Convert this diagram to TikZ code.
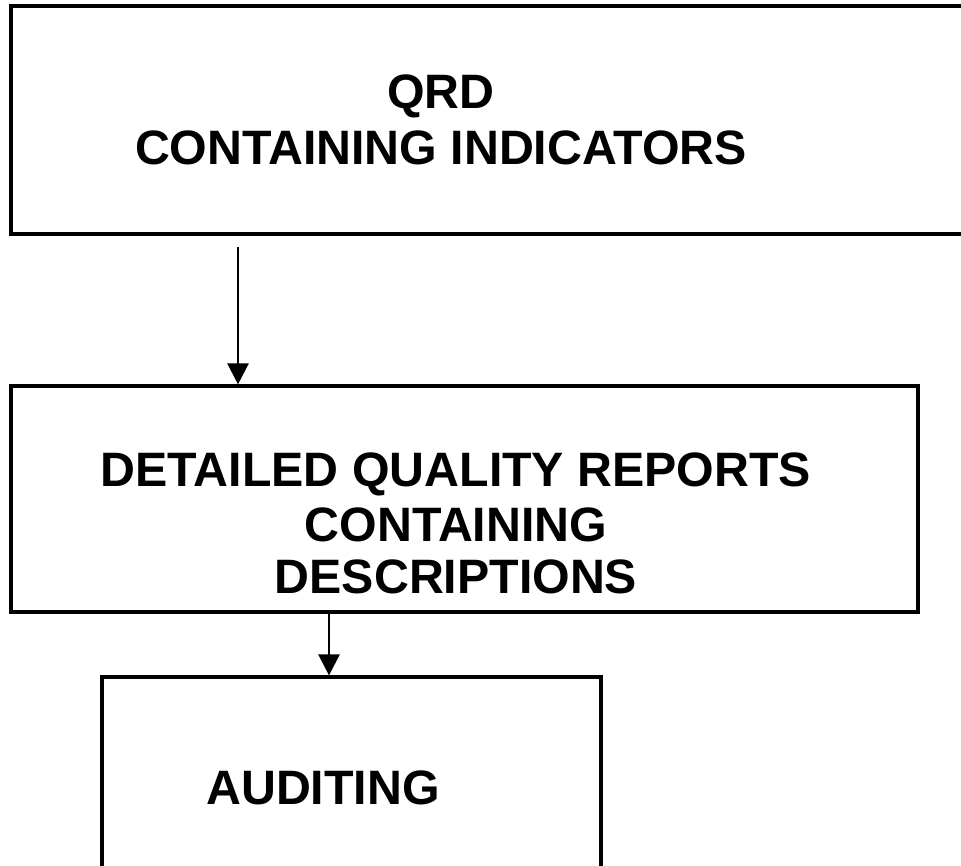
\documentclass[tikz,border=0pt]{standalone}
\usepackage{fontspec}
\setmainfont{Liberation Sans}
\usetikzlibrary{arrows.meta}
\begin{document}
\begin{tikzpicture}[x=1pt,y=-1pt,
  boxstyle/.style={draw=black,line width=3.2pt,rectangle,inner sep=0pt,fill=white},
  labelstyle/.style={font=\fontsize{48.3}{54}\selectfont\bfseries,inner sep=0pt,anchor=base},
  arrowstyle/.style={line width=2.5pt,-{Triangle[length=21pt,width=21pt]}}]
\useasboundingbox (0,0) rectangle (961,865);
\clip (0,0) rectangle (961,865);
\fill[white] (0,0) rectangle (961,865);
% boxes
\node[boxstyle,minimum width=956pt,minimum height=228pt] (b1) at (489,120) {};
\node[boxstyle,minimum width=907pt,minimum height=226pt] (b2) at (464.5,499) {};
\node[boxstyle,minimum width=499pt,minimum height=200pt] (b3) at (351.5,777) {};
% texts
\node[labelstyle] (t1a) at (441,108) {QRD};
\node[labelstyle] (t1b) at (441,164) {CONTAINING INDICATORS};
\node[labelstyle] (t2a) at (456,486) {DETAILED QUALITY REPORTS};
\node[labelstyle] (t2b) at (456,541) {CONTAINING};
\node[labelstyle] (t2c) at (456,593) {DESCRIPTIONS};
\node[labelstyle] (t3) at (323,804) {AUDITING};
% connectors
\coordinate (a1) at (238,247);
\draw[arrowstyle] (a1) -- (a1 |- b2.north);
\coordinate (a2) at (329,612);
\draw[arrowstyle] (a2) -- (a2 |- b3.north);
\end{tikzpicture}
\end{document}
